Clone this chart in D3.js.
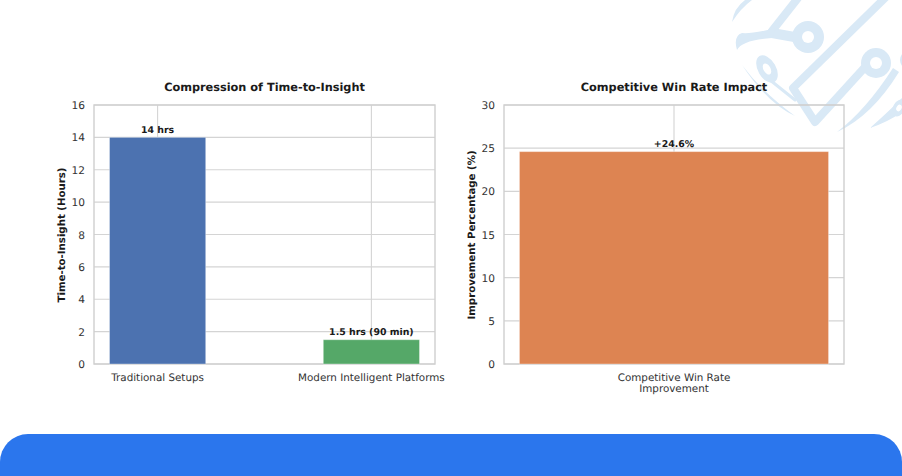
<!DOCTYPE html>
<html>
<head>
<meta charset="utf-8">
<script src="https://cdn.jsdelivr.net/npm/d3@7"></script>
<style>
  html, body { margin: 0; padding: 0; background: #fff; }
  svg { display: block; }
  text { font-family: "DejaVu Sans", sans-serif; fill: #333; text-rendering: geometricPrecision; }
</style>
</head>
<body>
<svg id="chart" width="902" height="476"></svg>
<script>
const timeCategories = ['Traditional Setups', 'Modern Intelligent Platforms'];
const timeValues = [14, 1.5];
const timeLabels = ['14 hrs', '1.5 hrs (90 min)'];
const timeColors = ['#4c72b0', '#55a868'];
const timeTicks = [0, 2, 4, 6, 8, 10, 12, 14, 16];

const winCategories = [['Competitive Win Rate', 'Improvement']];
const winValues = [24.6];
const winLabels = ['+24.6%'];
const winColors = ['#dd8452'];
const winTicks = [0, 5, 10, 15, 20, 25, 30];

const svg = d3.select('#chart');

// Background circuit decoration, top right
const decor = svg.append('g').attr('id', 'decor');
const decorColor = '#d9e9f6';
[
  ['M798,-2 L772,31', 8],
  ['M772,33 L800,38', 10],
  ['M885,-2 L793,88 L815,122 L866,66', 8],
  ['M770,80 L795,100', 3]
].forEach(s => {
  decor.append('path').attr('d', s[0]).attr('fill', 'none')
    .attr('stroke', decorColor).attr('stroke-width', s[1])
    .attr('stroke-linecap', 'round').attr('stroke-linejoin', 'round');
});
[
  'M745,0 Q734,8 732,22 Q741,8 752,0 Z',
  'M776,28 Q752,34 742,33 Q733,36 737,50 Q742,40 772,38 Z',
  'M742,65 Q762,92 795,116 Q768,104 742,65 Z',
  'M837,132 Q866,110 893,68 L899,72 Q872,116 837,132 Z',
  'M870,128 Q888,112 902,98 L902,112 Q888,122 870,128 Z',
  'M902,54 Q898,60 902,66 Z'
].forEach(d => decor.append('path').attr('d', d).attr('fill', decorColor));
// [cx, cy, rx, ry, hole rx, hole ry, tilt]
[
  [808, 37, 16, 16, 6, 6, 0],
  [876, 63, 15, 15, 6, 6, 0],
  [767, 69, 9, 15, 3.5, 6, -30],
  [899, 108, 6, 9, 2.5, 3.5, 30]
].forEach(r => {
  const rot = 'rotate(' + r[6] + ' ' + r[0] + ' ' + r[1] + ')';
  decor.append('ellipse').attr('cx', r[0]).attr('cy', r[1]).attr('rx', r[2]).attr('ry', r[3])
    .attr('transform', rot).attr('fill', decorColor);
  decor.append('ellipse').attr('cx', r[0]).attr('cy', r[1]).attr('rx', r[4]).attr('ry', r[5])
    .attr('transform', rot).attr('fill', '#fff');
});

// Blue band at the bottom
svg.append('path')
  .attr('d', 'M0,476 V462 A28,28 0 0 1 28,434 H874 A28,28 0 0 1 902,462 V476 Z')
  .attr('fill', '#2b76ed');

function panel(o) {
  const g = svg.append('g');
  const x = d3.scaleLinear().domain(o.xDomain).range([o.left, o.right]);
  const y = d3.scaleLinear().domain([0, o.yMax]).range([364, 105]);
  const barW = x(o.barWidth) - x(0);

  // grid
  g.append('g').selectAll('line').data(o.ticks).join('line')
    .attr('x1', o.left).attr('x2', o.right)
    .attr('y1', d => y(d)).attr('y2', d => y(d))
    .attr('stroke', '#d4d4d4').attr('stroke-width', 1.1);
  g.append('g').selectAll('line').data(o.categories).join('line')
    .attr('x1', (d, i) => x(i)).attr('x2', (d, i) => x(i))
    .attr('y1', 105).attr('y2', 364)
    .attr('stroke', '#d4d4d4').attr('stroke-width', 1.1);

  // frame
  g.append('rect')
    .attr('x', o.left).attr('y', 105)
    .attr('width', o.right - o.left).attr('height', 259)
    .attr('fill', 'none').attr('stroke', '#cfcfcf').attr('stroke-width', 1.4);

  // bars
  g.append('g').selectAll('rect').data(o.values).join('rect')
    .attr('x', (d, i) => x(i) - barW / 2)
    .attr('y', d => y(d))
    .attr('width', barW)
    .attr('height', d => y(0) - y(d))
    .attr('fill', (d, i) => o.colors[i])
    .attr('stroke', '#fff').attr('stroke-opacity', 0.35).attr('stroke-width', 1);

  // value labels
  g.append('g').selectAll('text').data(o.values).join('text')
    .attr('x', (d, i) => x(i))
    .attr('y', d => y(d) - 4.5)
    .attr('text-anchor', 'middle')
    .attr('font-size', 9.4).attr('font-weight', 'bold')
    .style('fill', '#1a1a1a')
    .text((d, i) => o.labels[i]);

  // y ticks
  g.append('g').selectAll('text').data(o.ticks).join('text')
    .attr('x', o.left - 9)
    .attr('y', d => y(d) + 4)
    .attr('text-anchor', 'end')
    .attr('font-size', 10.6)
    .text(d => d);

  // x tick labels
  o.categories.forEach((c, i) => {
    const lines = Array.isArray(c) ? c : [c];
    lines.forEach((t, j) => {
      g.append('text')
        .attr('x', x(i)).attr('y', 381 + j * 11)
        .attr('text-anchor', 'middle')
        .attr('font-size', 10.35)
        .text(t);
    });
  });

  // titles
  g.append('text')
    .attr('x', (o.left + o.right) / 2).attr('y', 91)
    .attr('text-anchor', 'middle')
    .attr('font-size', 11.3).attr('font-weight', 'bold')
    .style('fill', '#1a1a1a')
    .text(o.title);
  g.append('text')
    .attr('transform', 'translate(' + o.yLabelX + ',235) rotate(-90)')
    .attr('text-anchor', 'middle')
    .attr('font-size', 10.2).attr('font-weight', 'bold')
    .style('fill', '#1a1a1a')
    .text(o.yLabel);
}

panel({
  left: 94, right: 435, xDomain: [-0.2975, 1.2975], barWidth: 0.45, yMax: 16,
  categories: timeCategories, values: timeValues, labels: timeLabels, colors: timeColors, ticks: timeTicks,
  title: 'Compression of Time-to-Insight', yLabel: 'Time-to-Insight (Hours)', yLabelX: 65
});
panel({
  left: 504, right: 844, xDomain: [-0.44, 0.44], barWidth: 0.8, yMax: 30,
  categories: winCategories, values: winValues, labels: winLabels, colors: winColors, ticks: winTicks,
  title: 'Competitive Win Rate Impact', yLabel: 'Improvement Percentage (%)', yLabelX: 475
});
</script>
</body>
</html>
